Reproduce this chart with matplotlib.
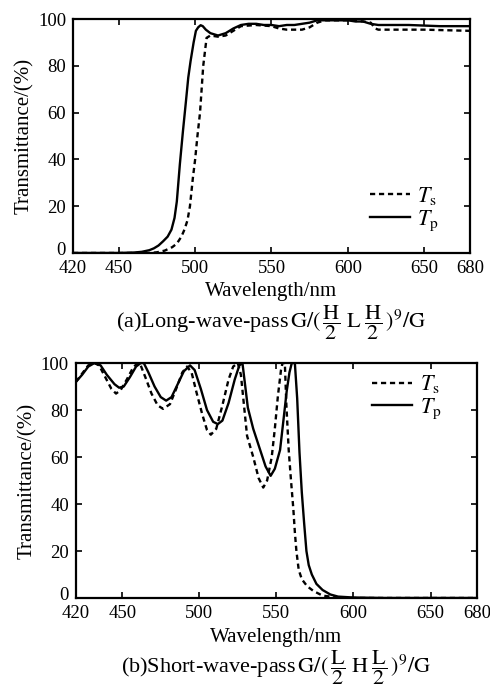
import matplotlib
matplotlib.use("Agg")
import matplotlib.pyplot as plt
from matplotlib.transforms import ScaledTranslation

plt.rcParams['font.family'] = ['Liberation Serif', 'DejaVu Serif']
plt.rcParams['mathtext.fontset'] = 'stix'

# (a) long-wave-pass
wl_a_p = [420, 450, 460, 465, 470, 473, 476, 479, 482, 484.5, 486.5, 488, 490, 492, 494, 495.5, 497,
          499, 500.5, 502, 503.6, 505, 507, 510, 515, 520, 525, 530, 535, 540, 545, 550, 555,
          560, 565, 570, 575, 580, 590, 600, 605, 610, 615, 620, 640, 660, 680]
tp_a = [0, 0, 0.2, 0.5, 1.2, 2, 3.2, 5, 7, 10, 15, 22, 38, 52, 65, 75, 82,
        90, 95, 96.5, 97.4, 97, 95.5, 94, 93, 94, 96, 97.5, 98, 98, 97.5, 97.5, 97,
        97.5, 97.5, 98, 98.5, 99.5, 99.5, 99.5, 99, 99, 98, 97.5, 97.5, 97, 97]

wl_a_s = [420, 470, 475, 480, 485, 488, 491, 493, 495, 496.6, 498.5, 500, 501.5, 503.2, 505.3,
          507.5, 510, 515, 520, 525, 530, 540, 550, 555, 560, 570, 575, 580, 585, 590,
          600, 610, 615, 618, 620, 650, 680]
ts_a = [0, 0, 0.3, 1, 2.5, 4, 7, 10, 14, 20, 32, 40, 50, 60, 80,
        92, 93, 92.5, 93, 95, 97, 97.5, 97, 96, 95.5, 95.5, 96.5, 98.5, 99.5, 99.5,
        99.5, 99, 98.5, 96, 95.5, 95.5, 95]

# (b) short-wave-pass
wl_b_p = [420, 424, 428, 432, 436, 440, 445, 448, 451, 455, 459, 462, 464, 467, 471, 475, 478.5,
          482, 486, 490, 494, 497, 501, 505, 509, 512, 515, 519, 523, 526, 528, 531.5, 535,
          539.5, 543, 546.3, 549, 552.4, 555, 556.7, 558.5, 560, 562, 563.5, 565, 566.5, 568,
          569.5, 571, 573, 576, 580, 585, 590, 600, 620, 680]
tp_b = [92, 95, 98.5, 100, 99, 95, 91, 89.5, 90, 94, 98.5, 100, 100, 96, 90, 85.5, 84,
        85.5, 91, 96.5, 99, 97, 89, 80, 75, 74, 75.5, 83, 93, 99, 100, 81, 72,
        63, 56, 52, 55, 63, 78, 88, 96, 100, 100, 85, 62, 45, 32,
        20, 14, 10, 6, 3.4, 1.5, 0.6, 0.2, 0, 0]

wl_b_s = [420, 424, 428, 432, 435, 439, 443, 446, 449, 453, 457, 460, 462, 465, 469, 473, 476.5,
          481, 485, 489, 492, 495, 498, 502, 505, 507.5, 511, 515, 519, 522, 525, 527, 529,
          531, 535, 538.5, 541.5, 544, 547, 549, 551, 553, 554, 555.5, 556.5, 558, 559.5,
          561, 562, 563, 564.5, 566.5, 570, 574, 580, 590, 600, 680]
ts_b = [92, 95.5, 99, 100, 99, 94, 89, 87, 88.5, 93, 98, 100, 99, 94, 87, 82, 80.5,
        82.5, 89, 96, 98.5, 96, 88, 78, 71.5, 69.5, 72, 82, 93, 98.5, 100, 95, 82,
        69, 60, 51, 47, 50, 60, 72, 86, 97, 100, 100, 82, 63, 50,
        38, 28, 20, 12, 8, 5, 3, 1, 0.2, 0, 0]

xticks = [420, 450, 500, 550, 600, 650, 680]
yticks = [0, 20, 40, 60, 80, 100]
fs_tick = 13.5
fs_lab = 15
fs_cap = 16
fs_leg = 16

fig = plt.figure(figsize=(4.9, 6.96), dpi=100)
ax1 = fig.add_axes([0.149, 0.6365, 0.810, 0.336])
ax2 = fig.add_axes([0.155, 0.1408, 0.818, 0.3376])

for ax, wp, tp, ws, ts in [(ax1, wl_a_p, tp_a, wl_a_s, ts_a), (ax2, wl_b_p, tp_b, wl_b_s, ts_b)]:
    ax.plot(ws, ts, color='black', lw=1.7, ls=(0, (2.2, 1.6)), label=r'$T_{\rm s}$')
    ax.plot(wp, tp, color='black', lw=1.7, ls='-', label=r'$T_{\rm p}$')
    ax.set_xlim(420, 680)
    ax.set_ylim(0, 100)
    ax.set_xticks(xticks)
    ax.set_yticks(yticks)
    ax.tick_params(direction='in', top=True, right=True, labelsize=fs_tick, length=4, width=1.2, pad=5)
    for sp in ax.spines.values():
        sp.set_linewidth(1.6)
    ax.set_xlabel('Wavelength/nm', fontsize=fs_lab, labelpad=4)
    ax.set_ylabel('Transmittance/(%)', fontsize=fs_lab, labelpad=3)
    # the "0" sits just above "420" as in the original
    lab0 = ax.get_yticklabels()[0]
    lab0.set_transform(lab0.get_transform() + ScaledTranslation(0, 3 / 72, fig.dpi_scale_trans))

ax1.legend(loc='center left', bbox_to_anchor=(0.725, 0.188), borderaxespad=0, frameon=False,
           fontsize=fs_leg, handlelength=1.8, handletextpad=0.35, labelspacing=0.05)
ax2.legend(loc='center left', bbox_to_anchor=(0.716, 0.855), borderaxespad=0, frameon=False,
           fontsize=fs_leg, handlelength=1.8, handletextpad=0.35, labelspacing=0.05)

fig.text(0.554, 1 - 323 / 696,
         r'(a)Long-wave-pass$\,\mathrm{G/(\,\dfrac{H}{2}\;L\;\dfrac{H}{2}\,)^{9}/G}$',
         ha='center', va='center', fontsize=fs_cap)
fig.text(0.563, 1 - 668 / 696,
         r'(b)Short-wave-pass$\,\mathrm{G/(\,\dfrac{L}{2}\;H\;\dfrac{L}{2}\,)^{9}/G}$',
         ha='center', va='center', fontsize=fs_cap)

fig.savefig('out.png', dpi=100)
